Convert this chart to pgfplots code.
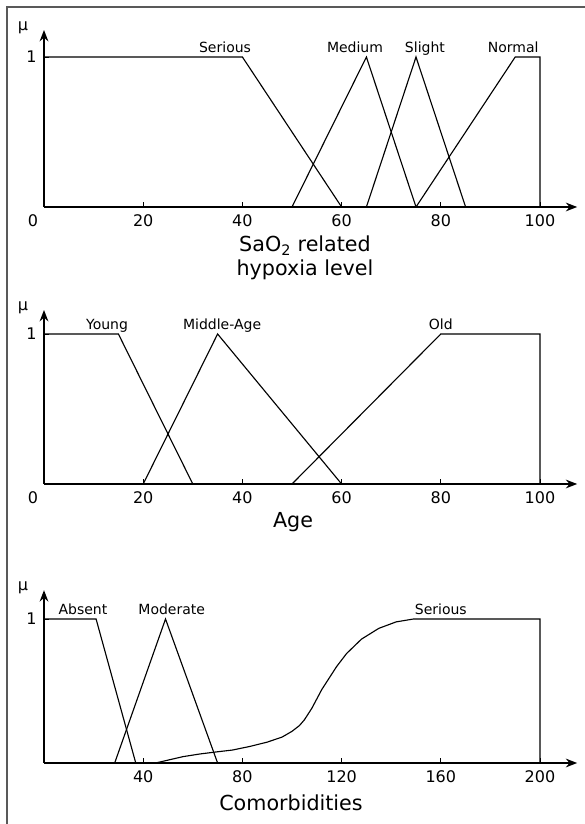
\documentclass[border=0pt]{standalone}
\usepackage{fontspec}
\setmainfont{DejaVu Sans}
\usepackage{pgfplots}
\pgfplotsset{compat=1.18}
\usetikzlibrary{arrows.meta}
\newcommand\tickfont{\fontsize{12}{14}\selectfont}
\newcommand\lblfont{\fontsize{10.5}{12}\selectfont}
\newcommand\axfont{\fontsize{15.5}{18}\selectfont}
\pgfplotsset{
  fz/.style={
    axis x line*=bottom, axis y line*=left,
    axis line style={line width=2.2pt, -{Stealth[length=8.5pt,width=6.5pt]}},
    every outer x axis line/.append style={line width=2.2pt, -{Stealth[length=8.5pt,width=6.5pt]}},
    every outer y axis line/.append style={line width=2.2pt, -{Stealth[length=8.5pt,width=6.5pt]}},
    tick align=inside,
    major tick length=3.5pt,
    tick style={black, line width=0.7pt},
    ymin=0, ytick={1},
    ticklabel style={font=\tickfont},
    xticklabel style={yshift=-2pt},
    yticklabel style={xshift=-2pt},
    /pgf/number format/assume math mode=true,
    clip=false,
    cycle list={black\\},
    no markers,
    every axis plot/.append style={line width=0.85pt},
    anchor=south west,
  },
}
\tikzset{
  lbl/.style={font=\lblfont, anchor=base, inner sep=0pt, yshift=3.5pt},
  zero/.style={font=\tickfont, anchor=north, yshift=-2pt, xshift=-8.25pt},
  mu/.style={font=\tickfont, anchor=center, xshift=-15.75pt, yshift=2pt},
}
\begin{document}
\begin{tikzpicture}
\useasboundingbox (0pt,0pt) rectangle (438.75pt,618pt);
\draw[line width=1.3pt, color=black!65] (5.25pt,-5pt) -- (5.25pt,612.75pt) -- (445pt,612.75pt);

% Panel 1: SaO2
\begin{axis}[fz, at={(33pt,462.75pt)}, x=3.72pt, y=112.5pt,
  xmin=0, xmax=107.5, ymax=1.18, xtick={20,40,60,80,100}]
\addplot coordinates {(0,1) (40,1) (60,0)};
\addplot coordinates {(50,0) (65,1) (75,0)};
\addplot coordinates {(65,0) (75,1) (85,0)};
\addplot coordinates {(75,0) (95,1) (100,1) (100,0)};
\node[lbl] at (axis cs:36.5,1) {Serious};
\node[lbl] at (axis cs:62.7,1) {Medium};
\node[lbl] at (axis cs:76.8,1) {Slight};
\node[lbl] at (axis cs:94.6,1) {Normal};
\node[zero] at (axis cs:0,0) {0};
\node[mu] at (axis cs:0,1.18) {μ};
\end{axis}
\node[font=\axfont, align=center] at (228.75pt,424.5pt) {SaO\textsubscript{2} related\\hypoxia level};

% Panel 2: Age
\begin{axis}[fz, at={(33pt,255pt)}, x=3.72pt, y=112.5pt,
  xmin=0, xmax=107.5, ymax=1.16, xtick={20,40,60,80,100}]
\addplot coordinates {(0,1) (15,1) (30,0)};
\addplot coordinates {(20,0) (35,1) (60,0)};
\addplot coordinates {(50,0) (80,1) (100,1) (100,0)};
\node[lbl] at (axis cs:12.7,1) {Young};
\node[lbl] at (axis cs:35.9,1) {Middle-Age};
\node[lbl] at (axis cs:80,1) {Old};
\node[zero] at (axis cs:0,0) {0};
\node[mu] at (axis cs:0,1.16) {μ};
\end{axis}
\node[font=\axfont] at (219.75pt,226.5pt) {Age};

% Panel 3: Comorbidities
\begin{axis}[fz, at={(33pt,45.75pt)}, x=1.86pt, y=108pt,
  xmin=0, xmax=215, ymax=1.2, xtick={40,80,120,160,200}]
\addplot coordinates {(0,1) (21,1) (37,0)};
\addplot coordinates {(28.5,0) (49,1) (70,0)};
\addplot coordinates {(45,0) (50,0.02) (56,0.044) (63,0.063) (70,0.078) (76,0.09)
  (83,0.115) (90,0.145) (96,0.18) (100,0.22) (103,0.26) (105,0.30) (108,0.38)
  (112,0.51) (118,0.67) (122,0.76) (128,0.86) (135,0.935) (142,0.98) (149,1)
  (200,1) (200,0)};
\node[lbl] at (axis cs:15.7,1) {Absent};
\node[lbl] at (axis cs:51.5,1) {Moderate};
\node[lbl] at (axis cs:160,1) {Serious};
\node[mu] at (axis cs:0,1.2) {μ};
\end{axis}
\node[font=\axfont] at (218.25pt,15.75pt) {Comorbidities};
\end{tikzpicture}
\end{document}
